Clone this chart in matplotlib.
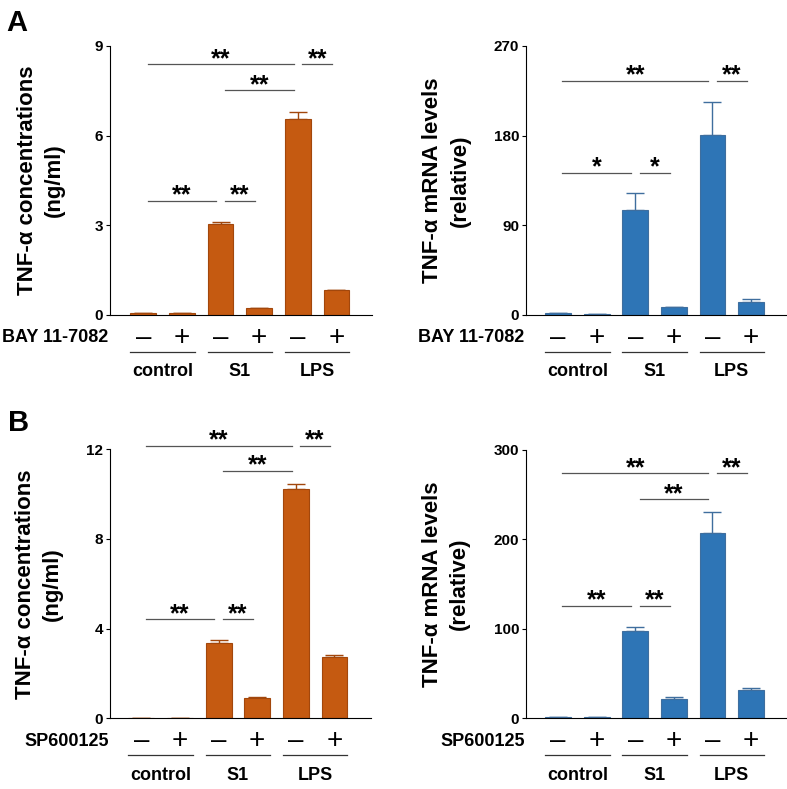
import matplotlib.pyplot as plt
from matplotlib.transforms import blended_transform_factory

plt.rcParams['font.family'] = ['Liberation Sans', 'DejaVu Sans']
plt.rcParams['font.weight'] = 'bold'

groups = ['control', 'S1', 'LPS']
signs = ['\u2013', '+', '\u2013', '+', '\u2013', '+']

a_conc = [0.05, 0.05, 3.03, 0.22, 6.55, 0.83]
a_conc_err = [0.0, 0.0, 0.09, 0.02, 0.25, 0.01]
a_mrna = [1.5, 1.0, 105.0, 8.0, 180.5, 12.8]
a_mrna_err = [0.5, 0.3, 17.5, 0.5, 33.0, 3.0]
b_conc = [0.03, 0.03, 3.35, 0.92, 10.21, 2.75]
b_conc_err = [0.0, 0.0, 0.14, 0.02, 0.23, 0.06]
b_mrna = [1.0, 1.0, 98.0, 21.6, 207.6, 31.7]
b_mrna_err = [0.3, 0.3, 4.5, 2.6, 22.8, 1.8]

# (left bar, right bar, height, label)
a_conc_sig = [(0, 4, 8.39, '**'), (4, 5, 8.39, '**'), (2, 4, 7.52, '**'),
              (0, 2, 3.81, '**'), (2, 3, 3.81, '**')]
a_mrna_sig = [(0, 4, 234.9, '**'), (4, 5, 234.9, '**'),
              (0, 2, 143.0, '*'), (2, 3, 143.0, '*')]
b_conc_sig = [(0, 4, 12.15, '**'), (4, 5, 12.15, '**'), (2, 4, 11.03, '**'),
              (0, 2, 4.41, '**'), (2, 3, 4.41, '**')]
b_mrna_sig = [(0, 4, 273.9, '**'), (4, 5, 273.9, '**'), (2, 4, 245.0, '**'),
              (0, 2, 126.0, '**'), (2, 3, 126.0, '**')]

ORANGE = ('#C55A11', '#A2470C')
BLUE = ('#2E75B6', '#3F6E9E')


def draw_panel(ax, values, errors, sig, yticks, ylabel, treatment, colors, xlim, label_x):
    x = list(range(len(values)))
    face, edge = colors
    ax.bar(x, values, width=0.67, color=face, edgecolor=edge, linewidth=0.8, zorder=2)
    ax.errorbar(x, values, yerr=[[0] * len(errors), errors], fmt='none',
                ecolor=edge, elinewidth=1.0, capsize=6.5, capthick=1.0, zorder=1)

    ax.set_xlim(*xlim)
    ax.set_ylim(yticks[0], yticks[-1])
    ax.set_yticks(yticks)
    ax.set_xticks([])
    ax.tick_params(axis='y', length=3, width=0.8, pad=2, labelsize=11)
    for t in ax.get_yticklabels():
        t.set_fontweight('bold')
    for s in ['top', 'right']:
        ax.spines[s].set_visible(False)
    ax.spines['left'].set_linewidth(0.8)
    ax.spines['bottom'].set_linewidth(0.8)

    ax.text(label_x, 0.5, ylabel, transform=ax.transAxes, rotation=90,
            ha='center', va='center', fontsize=16, fontweight='bold',
            linespacing=1.4)

    for i, j, h, txt in sig:
        ax.plot([i + 0.11, j - 0.11], [h, h], color='#555555', lw=0.9,
                clip_on=False, zorder=3)
        ax.annotate(txt, ((i + j) / 2, h), xytext=(0, -1.2),
                    textcoords='offset points', ha='center', va='baseline',
                    fontsize=18, fontweight='bold', annotation_clip=False)

    trans = blended_transform_factory(ax.transData, ax.transAxes)
    for xi, s in zip(x, signs):
        ax.text(xi, -0.085, s, transform=trans, ha='center', va='center',
                fontsize=20, fontweight='normal')
    ax.text(-0.005, -0.085, treatment, transform=ax.transAxes, ha='right',
            va='center', fontsize=13, fontweight='bold')
    for k, g in enumerate(groups):
        left, right = 2 * k - 0.335, 2 * k + 1 + 0.335
        ax.plot([left, right], [-0.137, -0.137], transform=trans, color='#333333',
                lw=0.9, clip_on=False)
        ax.text(2 * k + 0.5, -0.212, g, transform=trans, ha='center', va='center',
                fontsize=13, fontweight='bold')


fig = plt.figure(figsize=(7.87, 7.89), dpi=100)
ax1 = fig.add_axes([0.1398, 0.6008, 0.3329, 0.3409])
ax2 = fig.add_axes([0.6684, 0.6008, 0.3316, 0.3409])
ax3 = fig.add_axes([0.1398, 0.0896, 0.3313, 0.3409])
ax4 = fig.add_axes([0.6684, 0.0896, 0.3316, 0.3401])

draw_panel(ax1, a_conc, a_conc_err, a_conc_sig, [0, 3, 6, 9],
           'TNF-\u03b1 concentrations\n(ng/ml)', 'BAY 11-7082', ORANGE,
           (-0.86, 5.92), -0.263)
draw_panel(ax2, a_mrna, a_mrna_err, a_mrna_sig, [0, 90, 180, 270],
           'TNF-\u03b1 mRNA levels\n(relative)', 'BAY 11-7082', BLUE,
           (-0.83, 5.93), -0.304)
draw_panel(ax3, b_conc, b_conc_err, b_conc_sig, [0, 4, 8, 12],
           'TNF-\u03b1 concentrations\n(ng/ml)', 'SP600125', ORANGE,
           (-0.81, 5.94), -0.272)
draw_panel(ax4, b_mrna, b_mrna_err, b_mrna_sig, [0, 100, 200, 300],
           'TNF-\u03b1 mRNA levels\n(relative)', 'SP600125', BLUE,
           (-0.83, 5.93), -0.306)

fig.text(0.008, 0.988, 'A', fontsize=21, fontweight='bold', ha='left', va='top')
fig.text(0.010, 0.482, 'B', fontsize=21, fontweight='bold', ha='left', va='top')

fig.savefig('out.png', dpi=100)
